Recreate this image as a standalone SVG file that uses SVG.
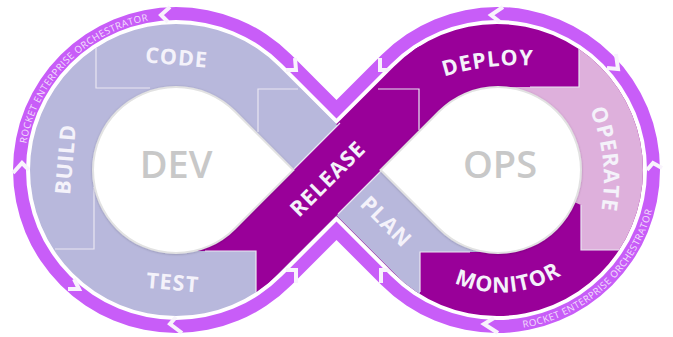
<svg xmlns="http://www.w3.org/2000/svg" width="673" height="337" viewBox="0 0 673 337">
<style>
.lab{font-family:"Open Sans","Liberation Sans",sans-serif;font-weight:700;font-size:21.5px;fill:#f4f2fa;text-anchor:middle;letter-spacing:1px}
.big{font-family:"Open Sans","Liberation Sans",sans-serif;font-weight:600;font-size:38px;fill:#c8c8c8;text-anchor:middle}
.orch{font-family:"Open Sans","Liberation Sans",sans-serif;font-size:9.6px;fill:#f3e0fb;letter-spacing:.55px}
.sep{fill:none;stroke:#e9e6f2;stroke-width:1.2}
.chev{fill:none;stroke:#f8f3fc;stroke-width:4}
.hole{fill:#fff;stroke:#e2e2e2;stroke-width:2}
</style>
<defs>
<clipPath id="band"><path d="M336.5,124 L393.76,66.76 A146,146 0 1 1 393.76,273.24 L336.5,216 L279.24,273.24 A146,146 0 1 1 279.24,66.76 Z"/></clipPath>
<path id="arcL" d="M26.3,143.6 A152,152 0 0 1 189.2,18.6"/>
<path id="arcR" d="M523.4,327.8 A160,160 0 0 0 657,160"/>
<path id="pDeploy" d="M440,78 Q487,62 538,66"/>
<path id="pMonitor" d="M446,279 Q508,310 570,270"/>
<path id="pOperate" d="M587,103 Q612,158 600,218"/>
<filter id="sh" x="-10%" y="-10%" width="120%" height="120%"><feDropShadow dx="0" dy="0.5" stdDeviation="1.2" flood-color="#000" flood-opacity=".22"/></filter>
</defs>
<g id="connectors">
<path d="M336.5,100 L381.74,54.74 A163,163 0 1 1 381.74,285.26 L336.5,240 L291.26,285.26 A163,163 0 1 1 291.26,54.74 Z" fill="#c85df8"/>
<path d="M336.5,118.4 L390.93,63.93 A150,150 0 1 1 390.93,276.07 L336.5,221.6 L282.07,276.07 A150,150 0 1 1 282.07,63.93 Z" fill="#fff"/>
<polyline class="chev" points="170,7 161,15 168,22"/>
<polyline class="chev" points="286,70 296,70 295,58"/>
<polyline class="chev" points="13,173 22,163 29,170"/>
<polyline class="chev" points="68,289 79,289 74,279"/>
<polyline class="chev" points="182,333 170,324 176,317"/>
<polyline class="chev" points="286,270 296,270 296,283"/>
<polyline class="chev" points="503,7 491,15 500,22"/>
<polyline class="chev" points="380,58 380,70 392,70"/>
<polyline class="chev" points="607,68 618,69 616,54"/>
<polyline class="chev" points="647,170 653,163 662,168"/>
<polyline class="chev" points="498,333 484,324 494,318"/>
<polyline class="chev" points="381,283 381,270 392,270"/>
</g>
<g clip-path="url(#band)">
<g id="build"><rect x="0" y="0" width="340" height="337" fill="#b8b8dc"/></g>
<g id="plan-shape"><rect x="336" y="0" width="337" height="337" fill="#990099"/><polygon points="300,88 420,208 480,208 480,252 420,252 420,299 300,179" fill="#b8b8dc"/></g>
<g id="operate-shape"><polygon points="579,0 700,0 700,250 581,250 581,205 500,170 500,87 579,87" fill="#deb0dc"/></g>
<g id="release-shape"><polygon points="195,251 256,251 256,296 420,132 420,43 250,213" fill="#990099"/>
<path class="sep" d="M340,123 L294,169 M338,214 L382,170"/></g>
<path class="sep" d="M96,48 V88 H150 M298,89 H258 V132 M205,251 H256 V292 M94,187 V249 H55 M378,89 H419 V130 M530,87 H579 V48 M581,205 V250 H622 M420,292 V252 H470"/>
</g>
<g id="dev"><path class="hole" filter="url(#sh)" d="M293.4,170 L234.7,111.3 A83,83 0 1 0 234.7,228.7 Z"/><text class="big" x="176" y="178">DEV</text></g>
<g id="ops"><path class="hole" filter="url(#sh)" d="M380.6,170 L439.3,111.3 A83,83 0 1 1 439.3,228.7 Z"/><text class="big" x="500" y="178">OPS</text></g>
<g id="code"><text class="lab" transform="translate(176,65) rotate(5)">CODE</text></g>
<g id="buildl"><text class="lab" transform="translate(73,160) rotate(-85)">BUILD</text></g>
<g id="test"><text class="lab" transform="translate(172,290) rotate(5)">TEST</text></g>
<g id="release"><text class="lab" transform="translate(333,184) rotate(-45)">RELEASE</text></g>
<g id="plan"><text class="lab" transform="translate(381,227) rotate(45)">PLAN</text></g>
<g id="deploy"><text class="lab"><textPath href="#pDeploy" startOffset="50%">DEPLOY</textPath></text></g>
<g id="operate"><text class="lab"><textPath href="#pOperate" startOffset="50%">OPERATE</textPath></text></g>
<g id="monitor"><text class="lab"><textPath href="#pMonitor" startOffset="50%">MONITOR</textPath></text></g>
<g id="orchestrators">
<text class="orch"><textPath href="#arcL">ROCKET ENTERPRISE ORCHESTRATOR</textPath></text>
<text class="orch"><textPath href="#arcR">ROCKET ENTERPRISE ORCHESTRATOR</textPath></text>
</g>
</svg>
